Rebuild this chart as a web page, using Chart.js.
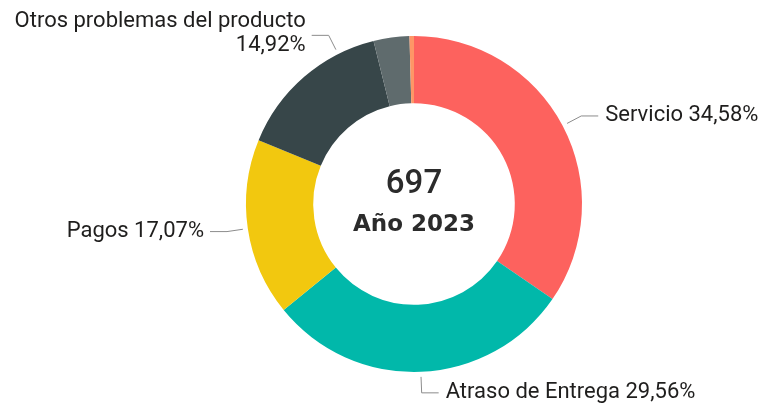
<!DOCTYPE html>
<html>
<head>
<meta charset="utf-8">
<script src="https://cdn.jsdelivr.net/npm/chart.js@4/dist/chart.umd.min.js"></script>
<style>
  html, body { margin: 0; padding: 0; background: #fff; }
  #wrap { width: 766px; height: 404px; position: relative; }
</style>
</head>
<body>
<div id="wrap"><canvas id="donut"></canvas></div>
<script>
// --- data (counts per category, total 697) ---
const categories = ['Servicio', 'Atraso de Entrega', 'Pagos', 'Otros problemas del producto', 'Otros', 'Sin clasificar'];
const counts = [241, 206, 119, 104, 24, 3];
const sliceColors = ['#FD625E', '#01B8AA', '#F2C80F', '#374649', '#5F6B6D', '#FE9666'];
const yearLabel = 'Año 2023';

// which slices get an outside label, where on the slice the leader starts, and line split
const labelShown = [true, true, true, true, false, false];
const labelAnchor = [0.5, 0.5, 0.5, 0.76, 0.5, 0.5];
const labelTwoLines = [false, false, false, true, false, false];

const TEXT = '#1f1e1d';
const LINE = '#8c8c8c';
const total = counts.reduce((s, v) => s + v, 0);

function fmtPct(v) {
  return (v / total * 100).toFixed(2).replace('.', ',') + '%';
}

// center text
const centerText = {
  id: 'centerText',
  afterDraw(chart) {
    const arc = chart.getDatasetMeta(0).data[0];
    if (!arc) return;
    const { x, y } = arc.getProps(['x', 'y'], true);
    const ctx = chart.ctx;
    ctx.save();
    ctx.fillStyle = '#2b2b2b';
    ctx.textAlign = 'center';
    ctx.textBaseline = 'middle';
    ctx.font = '500 33px Roboto';
    ctx.fillText(String(total), x, y - 19);
    ctx.font = 'bold 23px "DejaVu Sans"';
    ctx.fillText(yearLabel, x, y + 21);
    ctx.restore();
  }
};

// outside labels with leader lines
const leaderLabels = {
  id: 'leaderLabels',
  afterDatasetsDraw(chart) {
    const ctx = chart.ctx;
    const meta = chart.getDatasetMeta(0);
    ctx.save();
    ctx.font = '22px Roboto';
    ctx.fillStyle = TEXT;
    ctx.textBaseline = 'middle';
    meta.data.forEach((arc, i) => {
      if (!labelShown[i]) return;
      const p = arc.getProps(['x', 'y', 'startAngle', 'endAngle', 'outerRadius'], true);
      const a = p.startAngle + labelAnchor[i] * (p.endAngle - p.startAngle);
      const r = p.outerRadius;
      const cos = Math.cos(a), sin = Math.sin(a);
      const x0 = p.x + cos * (r + 5), y0 = p.y + sin * (r + 5);
      const x1 = p.x + cos * (r + 21), y1 = p.y + sin * (r + 21);
      const right = cos >= 0;
      const x2 = x1 + (right ? 17 : -17);

      ctx.strokeStyle = LINE;
      ctx.lineWidth = 1;
      ctx.beginPath();
      ctx.moveTo(x0, y0);
      ctx.lineTo(x1, y1);
      ctx.lineTo(x2, y1);
      ctx.stroke();

      const tx = x2 + (right ? 7 : -6);
      ctx.textAlign = right ? 'left' : 'right';
      if (labelTwoLines[i]) {
        ctx.fillText(categories[i], tx, y1 - 14);
        ctx.fillText(fmtPct(counts[i]), tx, y1 + 10);
      } else {
        ctx.fillText(categories[i] + ' ' + fmtPct(counts[i]), tx, y1);
      }
    });
    ctx.restore();
  }
};

new Chart(document.getElementById('donut'), {
  type: 'doughnut',
  data: {
    labels: categories,
    datasets: [{
      data: counts,
      backgroundColor: sliceColors,
      borderWidth: 0,
      hoverOffset: 0
    }]
  },
  options: {
    responsive: true,
    maintainAspectRatio: false,
    animation: false,
    cutout: '60%',
    layout: { padding: { top: 36, bottom: 32, left: 246, right: 184 } },
    plugins: {
      legend: { display: false },
      tooltip: { enabled: false }
    }
  },
  plugins: [leaderLabels, centerText]
});
</script>
</body>
</html>
